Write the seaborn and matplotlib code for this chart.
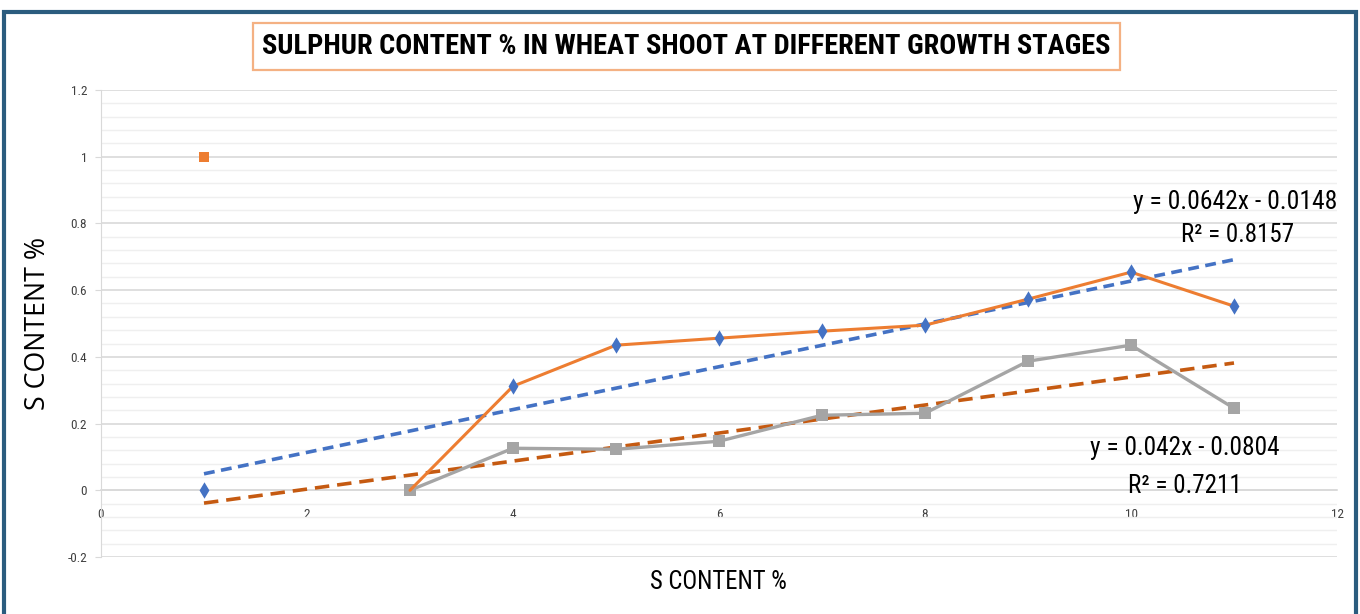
import matplotlib
matplotlib.use("Agg")
import matplotlib.pyplot as plt
from matplotlib.patches import Rectangle
from matplotlib.ticker import MultipleLocator, FuncFormatter
import seaborn as sns
import pandas as pd

# ---- data ----
blue_x = [1, 4, 5, 6, 7, 8, 9, 10, 11]
blue_y = [0.0, 0.312, 0.435, 0.456, 0.477, 0.495, 0.573, 0.654, 0.552]

orange_x = [3, 4, 5, 6, 7, 8, 9, 10, 11]
orange_y = [0.0, 0.312, 0.435, 0.456, 0.477, 0.495, 0.573, 0.654, 0.552]

gray_x = [3, 4, 5, 6, 7, 8, 9, 10, 11]
gray_y = [0.0, 0.126, 0.123, 0.147, 0.225, 0.231, 0.387, 0.435, 0.246]

lone_x = [1]
lone_y = [1.0]

trend1_slope, trend1_icpt, trend1_r2 = 0.0642, -0.0148, 0.8157
trend2_slope, trend2_icpt, trend2_r2 = 0.042, -0.0804, 0.7211
trend_x = [1, 11]

title = "SULPHUR CONTENT % IN WHEAT SHOOT AT DIFFERENT GROWTH STAGES"
xlabel = "S CONTENT %"
ylabel = "S CONTENT %"

# ---- style ----
sns.set_style("white")
NARROW = ["Roboto Condensed", "DejaVu Sans Condensed", "Liberation Sans Narrow",
          "Roboto", "DejaVu Sans"]
plt.rcParams["font.family"] = NARROW

BLUE = "#4472C4"
ORANGE = "#ED7D31"
GRAY = "#A5A5A5"
DKORANGE = "#C55A11"

fig = plt.figure(figsize=(13.6, 6.14), dpi=100)
ax = fig.add_axes([101 / 1360, 1 - 557 / 614, (1337 - 101) / 1360, (557 - 90) / 614])

df_orange = pd.DataFrame({"x": orange_x, "y": orange_y})
df_gray = pd.DataFrame({"x": gray_x, "y": gray_y})
df_blue = pd.DataFrame({"x": blue_x, "y": blue_y})
df_lone = pd.DataFrame({"x": lone_x, "y": lone_y})

t1 = pd.DataFrame({"x": trend_x, "y": [trend1_slope * v + trend1_icpt for v in trend_x]})
t2 = pd.DataFrame({"x": trend_x, "y": [trend2_slope * v + trend2_icpt for v in trend_x]})

sns.lineplot(data=t2, x="x", y="y", ax=ax, color=DKORANGE, lw=2.6, sort=False,
             linestyle=(0, (4, 2.2)), zorder=3)
sns.lineplot(data=t1, x="x", y="y", ax=ax, color=BLUE, lw=2.6, sort=False,
             linestyle=(0, (3, 1.8)), zorder=3)
sns.lineplot(data=df_gray, x="x", y="y", ax=ax, color=GRAY, lw=2.4, sort=False,
             marker="s", markersize=8, markeredgewidth=0, zorder=4)
sns.lineplot(data=df_orange, x="x", y="y", ax=ax, color=ORANGE, lw=2.2, sort=False, zorder=5)
sns.scatterplot(data=df_blue, x="x", y="y", ax=ax, color=BLUE, marker="d", s=70,
                linewidth=0, zorder=6)
sns.scatterplot(data=df_lone, x="x", y="y", ax=ax, color=ORANGE, marker="s", s=60,
                linewidth=0, zorder=6)

ax.set_xlim(0, 12)
ax.set_ylim(-0.2, 1.2)
ax.xaxis.set_major_locator(MultipleLocator(2))
ax.yaxis.set_major_locator(MultipleLocator(0.2))
ax.yaxis.set_minor_locator(MultipleLocator(0.04))
ax.yaxis.set_major_formatter(FuncFormatter(lambda v, p: f"{v:g}" if abs(v) > 1e-9 else "0"))
ax.xaxis.set_major_formatter(FuncFormatter(lambda v, p: f"{v:g}"))

ax.grid(axis="y", which="major", color="#D9D9D9", lw=1.2)
ax.grid(axis="y", which="minor", color="#EFEFEF", lw=1.0)
ax.set_axisbelow(True)

for s in ["top", "right"]:
    ax.spines[s].set_visible(False)
ax.spines["left"].set_color("#D9D9D9")
ax.spines["bottom"].set_position(("data", 0))
ax.spines["bottom"].set_color("#D9D9D9")
ax.spines["bottom"].set_linewidth(1.2)

ax.tick_params(axis="x", length=5, color="#D9D9D9", labelsize=9.5, labelcolor="#404040", pad=8)
ax.tick_params(axis="y", which="major", length=4, color="#D9D9D9", labelsize=9.5,
               labelcolor="#404040", pad=6, left=True)
ax.tick_params(axis="y", which="minor", length=0)
ax.set_xlabel("")
ax.set_ylabel("")

# trendline equations
txt = []
txt.append((ax.text(12.0, 0.864, f"y = {trend1_slope}x - {abs(trend1_icpt)}", ha="right",
                    va="center", fontsize=20, family=NARROW, color="#000000"), 204, False))
txt.append((ax.text(11.03, 0.765, f"R² = {trend1_r2}", ha="center", va="center",
                    fontsize=20, family=NARROW, color="#000000"), 113, False))
txt.append((ax.text(10.52, 0.126, f"y = {trend2_slope}x - {abs(trend2_icpt)}", ha="center",
                    va="center", fontsize=20, family=NARROW, color="#000000"), 190, False))
txt.append((ax.text(10.52, 0.012, f"R² = {trend2_r2}", ha="center", va="center",
                    fontsize=20, family=NARROW, color="#000000"), 114, False))

# title with box
fig.patches.append(Rectangle((253 / 1360, 1 - 70 / 614), 867 / 1360, 47 / 614,
                             transform=fig.transFigure, fill=False,
                             edgecolor="#F4B183", lw=1.6, zorder=10))
txt.append((fig.text(686 / 1360, 1 - 47 / 614, title, ha="center", va="center", fontsize=21,
                     fontweight="bold", family=NARROW, color="#000000"), 850, False))

txt.append((fig.text(718 / 1360, 1 - 582 / 614, xlabel, ha="center", va="center",
                     fontsize=18, family=NARROW, color="#000000"), 137, False))
txt.append((fig.text(38 / 1360, 1 - 323 / 614, ylabel, ha="center", va="center", fontsize=17,
                     rotation=90, family=["Open Sans", "DejaVu Sans"], color="#000000"),
            173, True))

# fit text sizes to the widths measured on the reference
fig.canvas.draw()
r = fig.canvas.get_renderer()
for t, target, rot in txt:
    bb = t.get_window_extent(r)
    w = bb.height if rot else bb.width
    t.set_fontsize(t.get_fontsize() * target / w)

# outer frame
fig.patches.append(Rectangle((4 / 1360, -0.02), 1352 / 1360, 1 - 12 / 614 + 0.02,
                             transform=fig.transFigure, fill=False,
                             edgecolor="#2B5C7E", lw=3, zorder=10))

fig.savefig("out.png", dpi=100)
